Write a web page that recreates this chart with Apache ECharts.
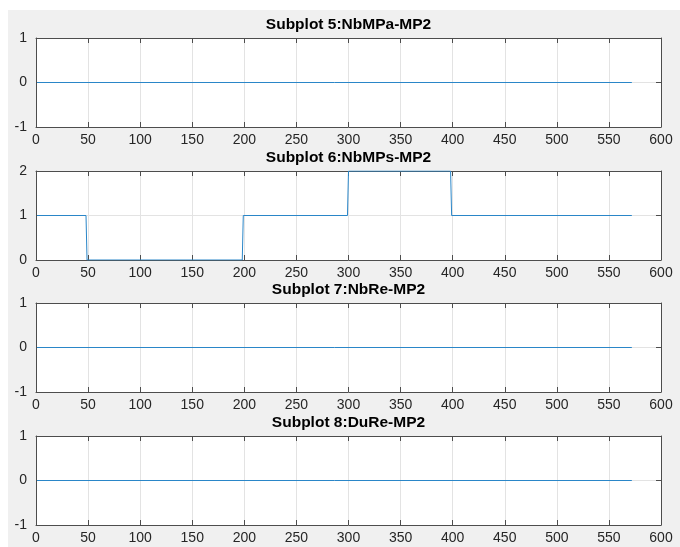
<!DOCTYPE html>
<html>
<head>
<meta charset="utf-8">
<script src="https://cdn.jsdelivr.net/npm/echarts@6/dist/echarts.min.js"></script>
<style>html,body{margin:0;padding:0;background:#fff}#c{width:680px;height:547px}</style>
</head>
<body>
<div id="c"></div>
<script>
// ---- data ----
const titles = ['Subplot 5:NbMPa-MP2', 'Subplot 6:NbMPs-MP2', 'Subplot 7:NbRe-MP2', 'Subplot 8:DuRe-MP2'];
const xTicks = [0, 50, 100, 150, 200, 250, 300, 350, 400, 450, 500, 550, 600];
const yRanges = [[-1, 1], [0, 2], [-1, 1], [-1, 1]];
// sample index where value changes (step data), and values
const x5 = [1, 572];
const y5 = [0, 0];
const x6 = [1, 48, 49, 198, 199, 299, 300, 398, 399, 572];
const y6 = [1, 1, 0, 0, 1, 1, 2, 2, 1, 1];
const x7 = [1, 572];
const y7 = [0, 0];
const x8 = [1, 572];
const y8 = [0, 0];

const seriesX = [x5, x6, x7, x8];
const seriesY = [y5, y6, y7, y8];

// ---- layout ----
const tops = [38, 171, 303, 436];
const H = 89, L = 36, W = 625;
const axisCol = '#4d4d4d', textCol = '#262626', gridCol = '#e3e3e3', lineCol = '#2a86c8';
const font = 'Liberation Sans, Arial, Helvetica, sans-serif';

const grid = [], xAxis = [], yAxis = [], series = [], title = [];
tops.forEach((t, i) => {
  grid.push({left: L, top: t, width: W, height: H, show: true, backgroundColor: '#fff', borderWidth: 0});
  title.push({text: titles[i], left: L + W / 2, top: t - 21, textAlign: 'center', padding: 0,
    textStyle: {fontFamily: font, fontSize: 15.5, fontWeight: 'bold', color: '#000'}});
  const xmin = xTicks[0], xmax = xTicks[xTicks.length - 1], xint = xTicks[1] - xTicks[0];
  xAxis.push({gridIndex: i, type: 'value', min: xmin, max: xmax, interval: xint, position: 'bottom',
    axisLine: {show: true, onZero: false, lineStyle: {color: axisCol, width: 1}},
    axisTick: {show: true, inside: true, length: 5, lineStyle: {color: axisCol}},
    axisLabel: {show: true, color: textCol, fontFamily: font, fontSize: 14, margin: 6},
    splitLine: {show: true, lineStyle: {color: gridCol, width: 1}}});
  xAxis.push({gridIndex: i, type: 'value', min: xmin, max: xmax, interval: xint, position: 'top',
    axisLine: {show: true, onZero: false, lineStyle: {color: axisCol, width: 1}},
    axisTick: {show: true, inside: true, length: 5, lineStyle: {color: axisCol}},
    axisLabel: {show: false}, splitLine: {show: false}});
  const [ymin, ymax] = yRanges[i];
  yAxis.push({gridIndex: i, type: 'value', min: ymin, max: ymax, interval: 1, position: 'left',
    axisLine: {show: true, onZero: false, lineStyle: {color: axisCol, width: 1}},
    axisTick: {show: true, inside: true, length: 5, lineStyle: {color: axisCol}},
    axisLabel: {show: true, color: textCol, fontFamily: font, fontSize: 14, margin: 9},
    splitLine: {show: true, lineStyle: {color: gridCol, width: 1}}});
  yAxis.push({gridIndex: i, type: 'value', min: ymin, max: ymax, interval: 1, position: 'right',
    axisLine: {show: true, onZero: false, lineStyle: {color: axisCol, width: 1}},
    axisTick: {show: true, inside: true, length: 5, lineStyle: {color: axisCol}},
    axisLabel: {show: false}, splitLine: {show: false}});
  series.push({type: 'line', xAxisIndex: 2 * i, yAxisIndex: 2 * i, showSymbol: false, symbol: 'none',
    lineStyle: {color: lineCol, width: 1}, animation: false, z: 3,
    data: seriesX[i].map((x, k) => [x, seriesY[i][k]])});
});

const chart = echarts.init(document.getElementById('c'), null, {renderer: 'canvas'});
chart.setOption({
  animation: false,
  backgroundColor: '#fff',
  graphic: [{type: 'rect', left: 8, top: 10, z: -10, shape: {width: 672, height: 537}, style: {fill: '#f0f0f0'}}],
  title, grid, xAxis, yAxis, series
});
</script>
</body>
</html>
